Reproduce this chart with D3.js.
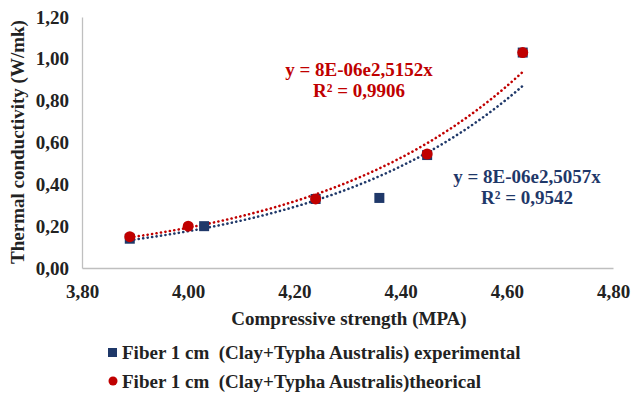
<!DOCTYPE html>
<html>
<head>
<meta charset="utf-8">
<script src="https://cdn.jsdelivr.net/npm/d3@7"></script>
<style>
  body { margin: 0; background: #fff; }
  svg text { font-family: "Liberation Serif", "DejaVu Serif", serif !important; font-weight: bold; }
</style>
</head>
<body>
<div id="chart"></div>
<script>
// data
const xTicks = [3.8, 4.0, 4.2, 4.4, 4.6, 4.8];
const yTicks = [0, 0.2, 0.4, 0.6, 0.8, 1.0, 1.2];

const expX = [3.89, 4.03, 4.24, 4.36, 4.45, 4.63];
const expY = [0.14, 0.20, 0.33, 0.335, 0.54, 1.03];

const theoX = [3.89, 4.00, 4.24, 4.45, 4.63];
const theoY = [0.15, 0.20, 0.33, 0.545, 1.03];

const seriesNames = [
  "Fiber 1 cm  (Clay+Typha Australis) experimental",
  "Fiber 1 cm  (Clay+Typha Australis)theorical"
];
const eqExp = ["y = 8E-06e2,5057x", "R² = 0,9542"];
const eqTheo = ["y = 8E-06e2,5152x", "R² = 0,9906"];

const blue = "#1f3869", red = "#c00000";

const width = 631, height = 407;
const margin = {top: 17, right: 18, bottom: 139, left: 82};
const w = width - margin.left - margin.right,
      h = height - margin.top - margin.bottom;

const svg = d3.select("#chart").append("svg")
    .attr("width", width)
    .attr("height", height);

const g = svg.append("g")
    .attr("transform", `translate(${margin.left},${margin.top})`);

const x = d3.scaleLinear().domain([3.8, 4.8]).range([0, w]);
const y = d3.scaleLinear().domain([0, 1.2]).range([h, 0]);

const fmt = d => d3.format(".2f")(d).replace(".", ",");

// axes
const xAxis = g.append("g")
    .attr("transform", `translate(0,${h})`)
    .call(d3.axisBottom(x).tickValues(xTicks).tickFormat(fmt).tickSize(0).tickPadding(17));
const yAxis = g.append("g")
    .call(d3.axisLeft(y).tickValues(yTicks).tickFormat(fmt).tickSize(0).tickPadding(13));
[xAxis, yAxis].forEach(a => {
  a.select(".domain").attr("stroke", "#bfbfbf").attr("stroke-width", 1.3);
  a.selectAll("text").attr("font-size", 19).attr("fill", "#222");
});

// exponential trendline, least squares on ln(y) like Excel
function expFit(xs, ys) {
  const ly = ys.map(Math.log);
  const mx = d3.mean(xs), my = d3.mean(ly);
  let sxy = 0, sxx = 0;
  xs.forEach((v, i) => { sxy += (v - mx) * (ly[i] - my); sxx += (v - mx) * (v - mx); });
  const b = sxy / sxx, a = Math.exp(my - b * mx);
  return v => a * Math.exp(b * v);
}

function trend(xs, ys, color) {
  const f = expFit(xs, ys);
  const pts = d3.range(0, 61).map(i => {
    const xv = d3.min(xs) + (d3.max(xs) - d3.min(xs)) * i / 60;
    return [xv, f(xv)];
  });
  g.append("path")
    .datum(pts)
    .attr("fill", "none")
    .attr("stroke", color)
    .attr("stroke-width", 2.6)
    .attr("stroke-linecap", "round")
    .attr("stroke-dasharray", "0.1 4.4")
    .attr("d", d3.line().x(d => x(d[0])).y(d => y(d[1])));
}

trend(expX, expY, blue);
trend(theoX, theoY, red);

// markers
g.append("g").selectAll("rect")
  .data(expX.map((v, i) => [v, expY[i]]))
  .join("rect")
    .attr("x", d => x(d[0]) - 5)
    .attr("y", d => y(d[1]) - 5)
    .attr("width", 10)
    .attr("height", 10)
    .attr("fill", blue);

g.append("g").selectAll("circle")
  .data(theoX.map((v, i) => [v, theoY[i]]))
  .join("circle")
    .attr("cx", d => x(d[0]))
    .attr("cy", d => y(d[1]))
    .attr("r", 5.5)
    .attr("fill", red);

// equations
function label(lines, cx, cy, color) {
  const t = g.append("text")
    .attr("text-anchor", "middle")
    .attr("font-size", 19)
    .attr("fill", color);
  lines.forEach((s, i) => {
    t.append("tspan").attr("x", cx).attr("y", cy + i * 21).text(s);
  });
}
label(eqTheo, 359 - margin.left, 76 - margin.top, red);
label(eqExp, 527 - margin.left, 183 - margin.top, blue);

// axis titles
svg.append("text")
  .attr("x", 349).attr("y", 325)
  .attr("text-anchor", "middle")
  .attr("font-size", 19)
  .attr("fill", "#222")
  .text("Compressive strength (MPA)");

svg.append("text")
  .attr("transform", "translate(24,142) rotate(-90)")
  .attr("text-anchor", "middle")
  .attr("font-size", 19)
  .attr("fill", "#222")
  .text("Thermal conductivity (W/mk)");

// legend
const leg = svg.append("g");
leg.append("rect").attr("x", 108).attr("y", 348).attr("width", 9).attr("height", 9).attr("fill", blue);
leg.append("circle").attr("cx", 113).attr("cy", 381).attr("r", 4.5).attr("fill", red);
leg.selectAll("text")
  .data(seriesNames)
  .join("text")
    .attr("x", 122)
    .attr("y", (d, i) => 359 + i * 29)
    .attr("font-size", 19)
    .attr("fill", "#222")
    .style("white-space", "pre")
    .text(d => d);
</script>
</body>
</html>
